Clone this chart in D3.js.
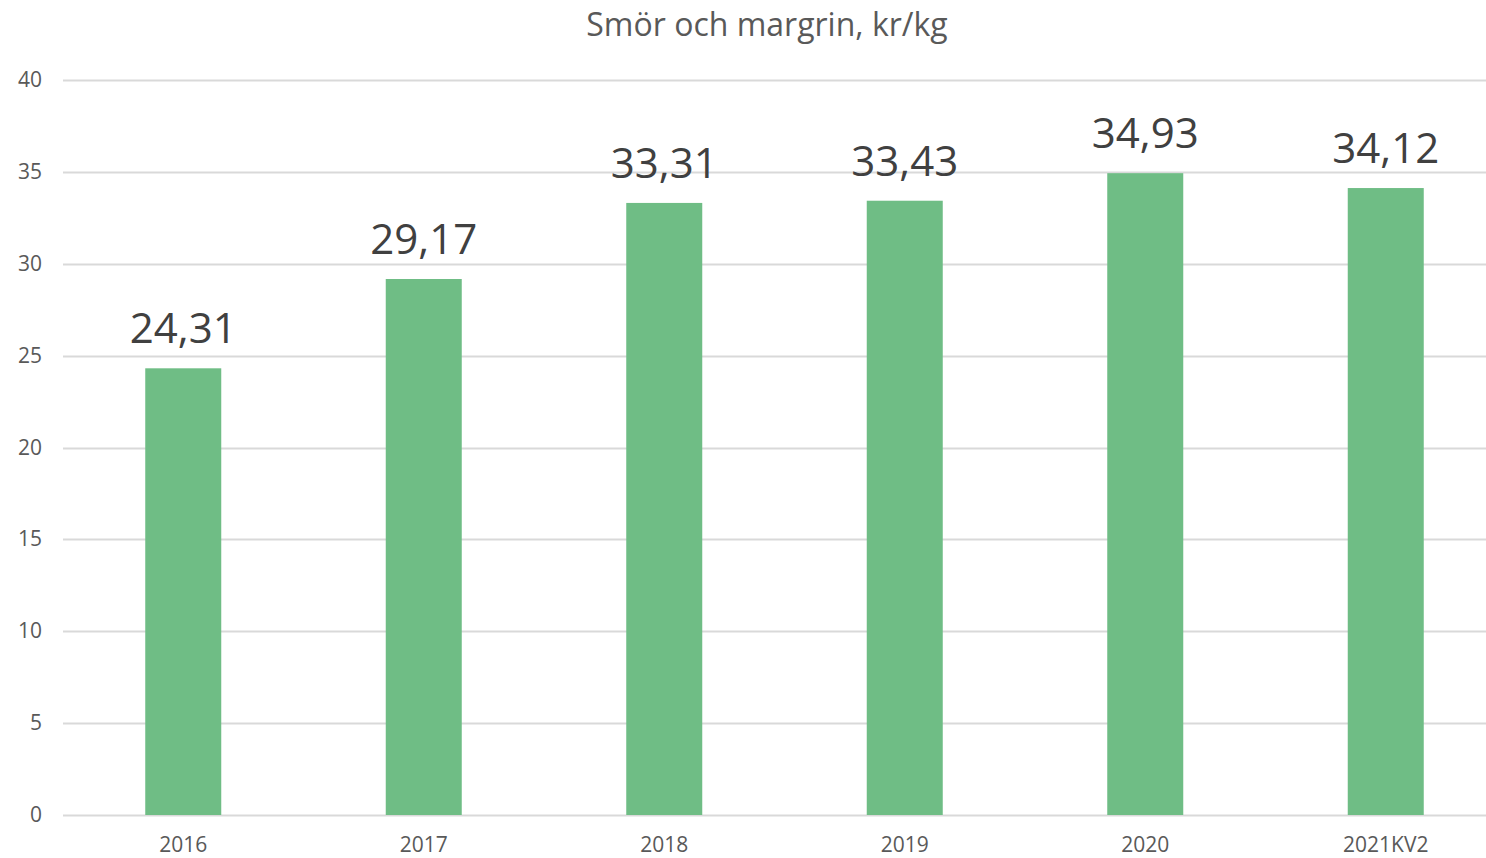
<!DOCTYPE html>
<html lang="sv">
<head>
<meta charset="UTF-8">
<title>Smör och margrin, kr/kg</title>
<script src="https://d3js.org/d3.v7.min.js"></script>
<style>
  body { margin: 0; background: #fff; }
  svg { display: block; font-family: "Open Sans", "Noto Sans", sans-serif; }
</style>
</head>
<body>
<svg width="1486" height="858"></svg>
<script>
const categories = ['2016', '2017', '2018', '2019', '2020', '2021KV2'];
const values = [24.31, 29.17, 33.31, 33.43, 34.93, 34.12];
const yTicks = [0, 5, 10, 15, 20, 25, 30, 35, 40];
const title = 'Smör och margrin, kr/kg';

const svg = d3.select('svg');
const plotLeft = 63, plotRight = 1506, gridRight = 1486, plotTop = 80, plotBottom = 815;

const x = d3.scaleBand().domain(categories).range([plotLeft, plotRight])
  .paddingInner(0.684).paddingOuter(0.342);
const y = d3.scaleLinear().domain([0, 40]).range([plotBottom, plotTop]);

const fmt = v => d3.format('.2f')(v).replace('.', ',');

svg.append('text')
  .attr('x', 767).attr('y', 36)
  .attr('text-anchor', 'middle')
  .attr('font-size', 32).attr('fill', '#595959')
  .text(title);

// gridlines
svg.append('g').selectAll('line').data(yTicks).enter().append('line')
  .attr('x1', plotLeft).attr('x2', gridRight)
  .attr('y1', d => Math.round(y(d)) + 0.5).attr('y2', d => Math.round(y(d)) + 0.5)
  .attr('stroke', '#d9d9d9').attr('stroke-width', 2);

// y labels
svg.append('g').selectAll('text').data(yTicks).enter().append('text')
  .attr('x', 42).attr('y', d => y(d) + 7)
  .attr('text-anchor', 'end')
  .attr('font-size', 21).attr('fill', '#595959')
  .text(d => d);

// bars
svg.append('g').selectAll('rect').data(values).enter().append('rect')
  .attr('x', (d, i) => x(categories[i]))
  .attr('width', x.bandwidth())
  .attr('y', d => y(d))
  .attr('height', d => y(0) - y(d))
  .attr('fill', '#6fbd85');

// data labels
svg.append('g').selectAll('text').data(values).enter().append('text')
  .attr('x', (d, i) => x(categories[i]) + x.bandwidth() / 2)
  .attr('y', d => y(d) - 25)
  .attr('text-anchor', 'middle')
  .attr('font-size', 42).attr('fill', '#404040')
  .text(d => fmt(d));

// x labels
svg.append('g').selectAll('text').data(categories).enter().append('text')
  .attr('x', d => x(d) + x.bandwidth() / 2)
  .attr('y', 852)
  .attr('text-anchor', 'middle')
  .attr('font-size', 21).attr('fill', '#595959')
  .text(d => d);
</script>
</body>
</html>
